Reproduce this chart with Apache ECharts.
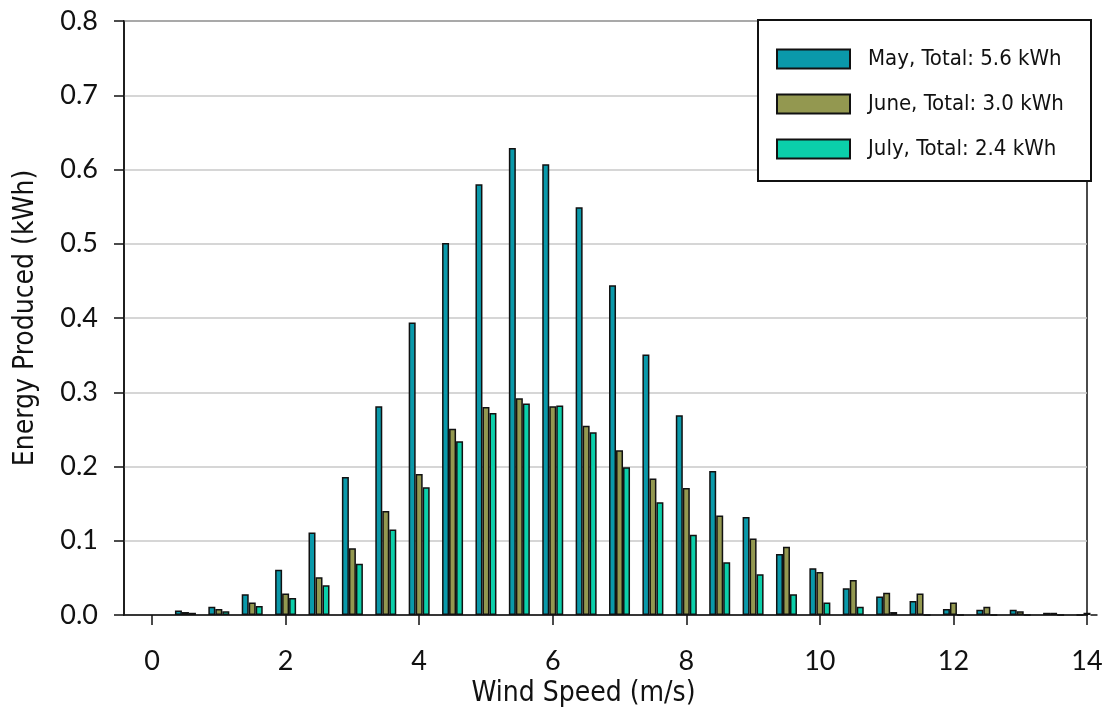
<!DOCTYPE html>
<html>
<head>
<meta charset="utf-8">
<script src="https://cdn.jsdelivr.net/npm/echarts@6/dist/echarts.min.js"></script>
<style>
html,body{margin:0;padding:0;background:#fff;}
#chart{width:1117px;height:708px;}
</style>
</head>
<body>
<div id="chart"></div>
<script>
const windSpeeds = [0.5,1,1.5,2,2.5,3,3.5,4,4.5,5,5.5,6,6.5,7,7.5,8,8.5,9,9.5,10,10.5,11,11.5,12,12.5,13,13.5,14];
const mayValues  = [0.006,0.011,0.028,0.061,0.111,0.186,0.281,0.394,0.501,0.580,0.629,0.607,0.549,0.444,0.351,0.269,0.194,0.132,0.082,0.063,0.036,0.025,0.019,0.008,0.007,0.007,0.003,0.000];
const juneValues = [0.004,0.008,0.017,0.029,0.051,0.090,0.140,0.190,0.251,0.280,0.292,0.281,0.255,0.222,0.184,0.171,0.134,0.103,0.092,0.058,0.047,0.030,0.029,0.017,0.011,0.005,0.003,0.003];
const julyValues = [0.003,0.005,0.012,0.023,0.040,0.069,0.115,0.172,0.234,0.272,0.285,0.282,0.246,0.199,0.152,0.108,0.071,0.055,0.028,0.017,0.011,0.004,0.000,0.000,0.000,0.000,0.000,0.000];
const xTickValues = [0,2,4,6,8,10,12,14];
const seriesNames = ['May, Total: 5.6 kWh','June, Total: 3.0 kWh','July, Total: 2.4 kWh'];
const seriesColors = ['#0a99aa','#939850','#0bcfaa'];

const narrow = "'DejaVu Sans Condensed','Noto Sans',sans-serif";
const tickFont = "'Lato','Open Sans',sans-serif";

function pairs(vals){ return windSpeeds.map((x,i)=>[x, vals[i]]); }
const allVals = [mayValues, juneValues, julyValues];

const chart = echarts.init(document.getElementById('chart'));
chart.setOption({
  animation:false,
  backgroundColor:'#fff',
  grid:{left:124,right:30,top:21,bottom:93,containLabel:false,outerBoundsMode:'none',
        show:true,borderColor:'#111',borderWidth:1.5,backgroundColor:'transparent'},
  xAxis:{
    type:'value',min:-0.42,max:14,
    name:'Wind Speed (m/s)',nameLocation:'middle',nameGap:54,
    nameTextStyle:{fontFamily:narrow,fontSize:28,color:'#111',padding:[0,44,0,0]},
    axisLine:{show:true,onZero:false,lineStyle:{color:'#111',width:1.5}},
    axisTick:{show:true,inside:false,length:10,customValues:xTickValues,lineStyle:{color:'#111',width:1.5}},
    axisLabel:{fontFamily:tickFont,fontSize:27,color:'#111',margin:33,customValues:xTickValues},
    splitLine:{show:false}
  },
  yAxis:{
    type:'value',min:0,max:0.8,interval:0.1,
    name:'Energy Produced (kWh)',nameLocation:'middle',nameGap:84,
    nameTextStyle:{fontFamily:narrow,fontSize:28,color:'#111'},
    axisLine:{show:true,onZero:false,lineStyle:{color:'#111',width:1.5}},
    axisTick:{show:true,inside:false,length:10,lineStyle:{color:'#111',width:1.5}},
    axisLabel:{fontFamily:tickFont,fontSize:27,color:'#111',margin:26,formatter:v=>v.toFixed(1)},
    splitLine:{show:true,lineStyle:{color:'#c8c8c8',width:1.5}}
  },
  legend:{
    orient:'vertical',left:771,top:43,itemWidth:73,itemHeight:19,itemGap:23,
    icon:'rect',
    textStyle:{fontFamily:narrow,fontSize:22,color:'#111',padding:[0,0,0,13]},
    z:10
  },
  graphic:[{
    type:'rect',left:757,top:19,z:9,
    shape:{width:333,height:161},
    style:{fill:'#fff',stroke:'#111',lineWidth:2}
  }],
  series: allVals.map((vals,i)=>({
    type:'bar',name:seriesNames[i],data:pairs(vals),
    barWidth:7,barGap:'0%',
    itemStyle:{color:seriesColors[i],borderColor:'#111',borderWidth:1.5},
    clip:true
  }))
});
</script>
</body>
</html>
